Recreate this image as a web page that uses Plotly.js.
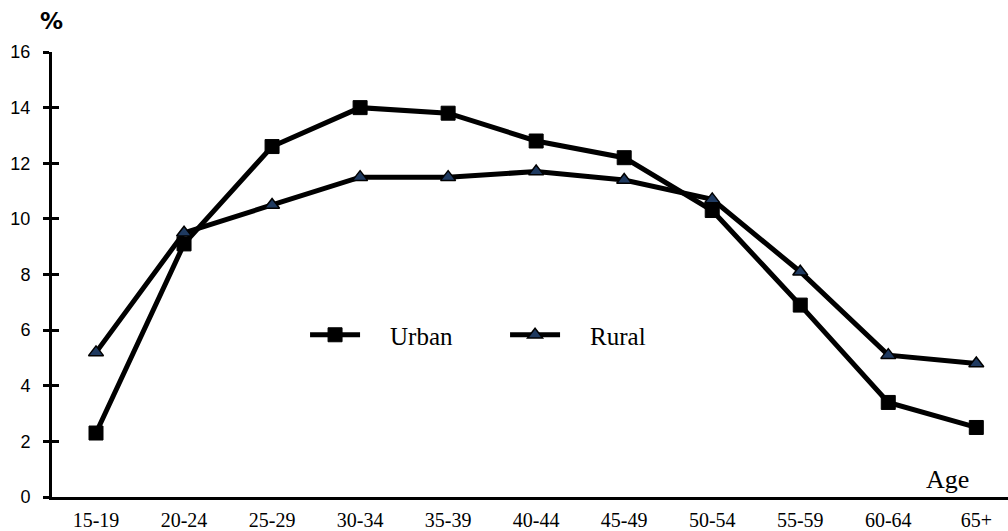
<!DOCTYPE html>
<html>
<head>
<meta charset="utf-8">
<script src="https://cdn.plot.ly/plotly-3.0.1.min.js"></script>
<style>html,body{margin:0;padding:0;background:#fff;}#chart{width:1008px;height:531px;}</style>
</head>
<body>
<div id="chart"></div>
<script>
var ageGroups = ["15-19","20-24","25-29","30-34","35-39","40-44","45-49","50-54","55-59","60-64","65+"];
var urbanValues = [2.3, 9.1, 12.6, 14.0, 13.8, 12.8, 12.2, 10.3, 6.9, 3.4, 2.5];
var ruralValues = [5.2, 9.5, 10.5, 11.5, 11.5, 11.7, 11.4, 10.7, 8.1, 5.1, 4.8];
var yTicks = [0, 2, 4, 6, 8, 10, 12, 14, 16];
var pad = "\u00a0\u00a0\u00a0\u00a0";

var traces = [
  {
    x: ageGroups, y: urbanValues, name: pad + "Urban", type: "scatter", mode: "lines+markers",
    line: {color: "#000000", width: 5},
    marker: {symbol: "square", size: 14, color: "#000000", line: {color: "#000000", width: 1}}
  },
  {
    x: ageGroups, y: ruralValues, name: pad + "Rural", type: "scatter", mode: "lines+markers",
    yaxis: "y2",
    line: {color: "#000000", width: 5},
    marker: {symbol: "triangle-up", size: 13, color: "#1f3a60", line: {color: "#000000", width: 1.5}}
  }
];

var layout = {
  width: 1008, height: 531,
  margin: {l: 52, r: 0, t: 52, b: 34, pad: 0},
  paper_bgcolor: "#ffffff", plot_bgcolor: "#ffffff",
  showlegend: true,
  legend: {
    orientation: "h", x: 0.2647, y: 0.364, xanchor: "left", yanchor: "middle",
    font: {family: "Liberation Serif, Times New Roman, serif", size: 25, color: "#000"},
    bgcolor: "rgba(0,0,0,0)", itemwidth: 50, tracegroupgap: 0,
    entrywidth: 135
  },
  xaxis: {
    type: "category", range: [-0.5, 10.36],
    showline: true, linecolor: "#000", linewidth: 3,
    showgrid: false, zeroline: false, ticks: "",
    ticklabelstandoff: 3,
    tickfont: {family: "Liberation Serif, Times New Roman, serif", size: 20, color: "#000"},
    fixedrange: true
  },
  yaxis: {
    range: [0, 16], tickvals: yTicks, ticktext: yTicks.map(String),
    showline: true, linecolor: "#000", linewidth: 3,
    showgrid: false, zeroline: false,
    ticks: "outside", ticklen: 6, tickwidth: 3, tickcolor: "#000",
    ticklabelstandoff: 9,
    tickfont: {family: "Liberation Sans, Arial, sans-serif", size: 18, color: "#000"},
    fixedrange: true
  },
  yaxis2: {
    overlaying: "y", side: "left", anchor: "x",
    range: [0, 16], tickvals: yTicks, showticklabels: false,
    showline: false, showgrid: false, zeroline: false,
    ticks: "inside", ticklen: 7, tickwidth: 3, tickcolor: "#000",
    fixedrange: true
  },
  annotations: [
    {text: "<b>%</b>", xref: "paper", yref: "paper", x: -0.001, y: 1.07, xanchor: "center", yanchor: "middle",
     showarrow: false, font: {family: "DejaVu Sans, Verdana, sans-serif", size: 23, color: "#000"}},
    {text: "Age", xref: "paper", yref: "paper", x: 0.937, y: 0.04, xanchor: "center", yanchor: "middle",
     showarrow: false, font: {family: "Liberation Serif, Times New Roman, serif", size: 26, color: "#000"}}
  ]
};

Plotly.newPlot("chart", traces, layout, {displayModeBar: false, staticPlot: true});
</script>
</body>
</html>
